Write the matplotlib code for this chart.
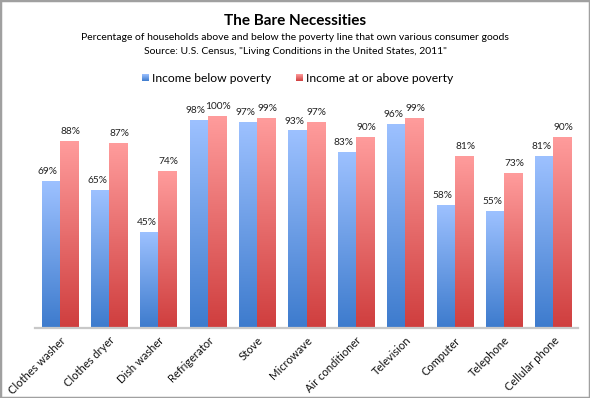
import numpy as np
import matplotlib.pyplot as plt
from matplotlib.colors import LinearSegmentedColormap
from matplotlib.patches import Rectangle

plt.rcParams['font.family'] = ['Lato', 'DejaVu Sans']

# データ
categories = ['Clothes washer', 'Clothes dryer', 'Dish washer', 'Refrigerator', 'Stove',
              'Microwave', 'Air conditioner', 'Television', 'Computer', 'Telephone',
              'Cellular phone']
below = [69, 65, 45, 98, 97, 93, 83, 96, 58, 55, 81]
above = [88, 87, 74, 100, 99, 97, 90, 99, 81, 73, 90]
series_names = ['Income below poverty', 'Income at or above poverty']

# グラデーション (下 -> 上)
blue_cmap = LinearSegmentedColormap.from_list('b', ['#3d7bcd', '#9dc1ff'])
red_cmap = LinearSegmentedColormap.from_list('r', ['#cf3e3e', '#ff9c9c'])

fig = plt.figure(figsize=(5.9, 3.98), dpi=100)
ax = fig.add_axes([35 / 590, 70 / 398, 543 / 590, 212 / 398])

x = np.arange(len(categories))
w = 0.365
grad = np.linspace(0, 1, 256).reshape(-1, 1)


def gradient_bars(bars, cmap):
    for b in bars:
        x0, y0 = b.get_x(), b.get_y()
        ax.imshow(grad, cmap=cmap, origin='lower', aspect='auto', zorder=2,
                  extent=[x0, x0 + b.get_width(), y0, y0 + b.get_height()])
        b.set_facecolor('none')


bars1 = ax.bar(x - w / 2, below, w, edgecolor='none', zorder=3)
bars2 = ax.bar(x + w / 2, above, w, edgecolor='none', zorder=3)
gradient_bars(bars1, blue_cmap)
gradient_bars(bars2, red_cmap)

# 値ラベル (隣同士が重ならないよう少しずらす)
for bars, dx in ((bars1, -0.06), (bars2, 0.03)):
    for b in bars:
        h = b.get_height()
        ax.text(b.get_x() + b.get_width() / 2 + dx, h + 2.5, f'{h}%', ha='center',
                va='bottom', fontsize=7.3, color='#222222', clip_on=False)

ax.set_xlim(-0.5, len(categories) - 0.5)
ax.set_ylim(0, 100)
ax.set_yticks([])
ax.set_xticks(x)
ax.set_xticklabels(categories, rotation=45, ha='right', rotation_mode='anchor',
                   fontsize=8, color='#111111')
ax.tick_params(axis='x', length=0, pad=5)
for s in ['top', 'right', 'left']:
    ax.spines[s].set_visible(False)
ax.spines['bottom'].set_color('#c8c8c8')
ax.spines['bottom'].set_linewidth(1.6)
ax.spines['bottom'].set_zorder(4)

# タイトル
fig.text(0.5, 1 - 21 / 398, 'The Bare Necessities', ha='center', va='center',
         fontsize=11, fontweight='bold')
fig.text(0.5, 1 - 37 / 398,
         'Percentage of households above and below the poverty line that own various consumer goods',
         ha='center', va='center', fontsize=7.5)
fig.text(0.5, 1 - 52 / 398, 'Source: U.S. Census, "Living Conditions in the United States, 2011"',
         ha='center', va='center', fontsize=7.5)

# 凡例
ly = 1 - 78 / 398
for lx, name, cmap in [(142, series_names[0], blue_cmap), (296, series_names[1], red_cmap)]:
    iax = fig.add_axes([lx / 590, ly - 3.5 / 398, 7 / 590, 7 / 398])
    iax.imshow(grad, cmap=cmap, origin='lower', aspect='auto')
    iax.axis('off')
    fig.text((lx + 10) / 590, ly, name, ha='left', va='center', fontsize=8.7)

# 枠
fig.patches.append(Rectangle((0, 0), 1, 1, transform=fig.transFigure, fill=False,
                             edgecolor='#a0a0a0', linewidth=2.5))

plt.savefig('out.png', dpi=100)
